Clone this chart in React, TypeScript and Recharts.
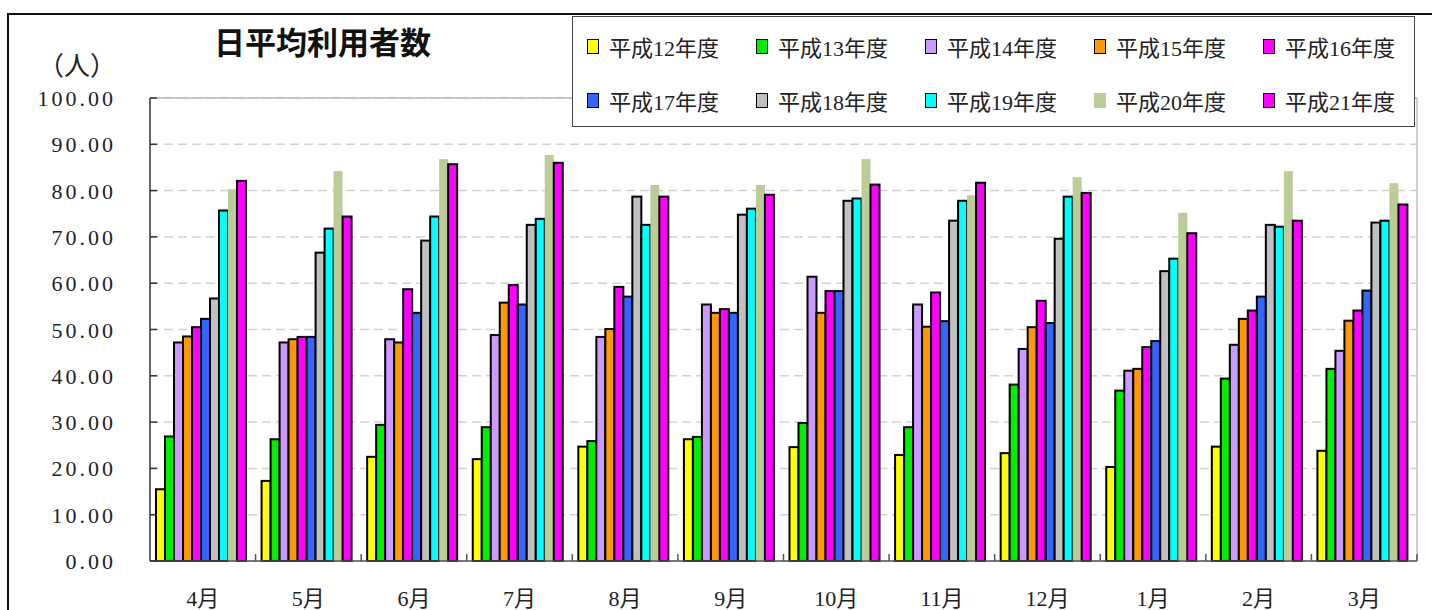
import { BarChart, Bar, XAxis, YAxis, CartesianGrid, Legend, ReferenceLine } from "recharts";

const months = ["4月", "5月", "6月", "7月", "8月", "9月", "10月", "11月", "12月", "1月", "2月", "3月"];

const h12 = [15.5, 17.3, 22.5, 22.0, 24.7, 26.3, 24.6, 22.9, 23.3, 20.3, 24.7, 23.8];
const h13 = [26.9, 26.3, 29.4, 28.9, 25.9, 26.8, 29.8, 28.9, 38.1, 36.8, 39.4, 41.5];
const h14 = [47.2, 47.2, 47.9, 48.8, 48.4, 55.4, 61.4, 55.4, 45.8, 41.1, 46.7, 45.4];
const h15 = [48.5, 47.9, 47.2, 55.8, 50.1, 53.6, 53.6, 50.6, 50.5, 41.5, 52.3, 51.9];
const h16 = [50.5, 48.4, 58.7, 59.6, 59.2, 54.4, 58.3, 58.0, 56.2, 46.2, 54.1, 54.1];
const h17 = [52.3, 48.4, 53.6, 55.4, 57.1, 53.6, 58.3, 51.8, 51.4, 47.5, 57.1, 58.4];
const h18 = [56.7, 66.6, 69.2, 72.6, 78.7, 74.8, 77.8, 73.5, 69.6, 62.6, 72.6, 73.1];
const h19 = [75.7, 71.8, 74.4, 73.9, 72.6, 76.1, 78.3, 77.8, 78.7, 65.3, 72.2, 73.5];
const h20 = [80.3, 84.2, 86.8, 87.7, 81.2, 81.2, 86.8, 79.0, 82.9, 75.2, 84.2, 81.6];
const h21 = [82.1, 74.4, 85.7, 86.0, 78.7, 79.1, 81.3, 81.7, 79.5, 70.8, 73.5, 77.0];

const yTicks = [0, 10, 20, 30, 40, 50, 60, 70, 80, 90, 100];

const series = [
  { key: "h12", name: "平成12年度", values: h12, color: "#FFFF00" },
  { key: "h13", name: "平成13年度", values: h13, color: "#00EE00" },
  { key: "h14", name: "平成14年度", values: h14, color: "#CC99FF" },
  { key: "h15", name: "平成15年度", values: h15, color: "#FF9900" },
  { key: "h16", name: "平成16年度", values: h16, color: "#FF00FF" },
  { key: "h17", name: "平成17年度", values: h17, color: "#3366FF" },
  { key: "h18", name: "平成18年度", values: h18, color: "#C0C0C0" },
  { key: "h19", name: "平成19年度", values: h19, color: "#00FFFF" },
  { key: "h20", name: "平成20年度", values: h20, color: "#BBCC99" },
  { key: "h21", name: "平成21年度", values: h21, color: "#FF00FF" },
];

const data = months.map((m, i) => {
  const row: Record<string, any> = { month: m };
  series.forEach((s) => (row[s.key] = s.values[i]));
  return row;
});

const FONT = '"Liberation Serif", "Noto Sans CJK JP", serif';
const PLOT_LEFT = 150;
const PLOT_RIGHT = 1417;
const BAND = (PLOT_RIGHT - PLOT_LEFT) / months.length;

const YTick = (props: any) => {
  const { x, y, payload } = props;
  return (
    <g>
      <line x1={x} x2={x + 7} y1={y} y2={y} stroke="#333" strokeWidth={1.5} />
      <text x={x - 34} y={y} dy={8} textAnchor="end" fontSize={22} letterSpacing={3} fontFamily={FONT} fill="#222">
        {Number(payload.value).toFixed(2)}
      </text>
    </g>
  );
};

const XTick = (props: any) => {
  const { x, y, payload } = props;
  return (
    <g>
      <line x1={x + BAND / 2} x2={x + BAND / 2} y1={y} y2={y - 7} stroke="#555" strokeWidth={1.5} />
      <text x={x} y={y + 45} textAnchor="middle" fontSize={22} fontFamily={FONT} fill="#222">
        {payload.value}
      </text>
    </g>
  );
};

const BarShape = (props: any) => {
  const { x, y, width, height, fill, outlined } = props;
  if (!height || height <= 0) return null;
  return (
    <rect
      x={x}
      y={y}
      width={width}
      height={height}
      fill={fill}
      stroke={outlined ? "#000" : "none"}
      strokeWidth={outlined ? 2 : 0}
    />
  );
};

const renderLegend = (props: any) => {
  const items = [...(props.payload || [])].sort(
    (a: any, b: any) => series.findIndex((s) => s.key === a.dataKey) - series.findIndex((s) => s.key === b.dataKey)
  );
  return (
    <div
      style={{
        display: "grid",
        gridTemplateColumns: "repeat(5, 169px)",
        gridTemplateRows: "54px 54px",
        paddingLeft: 14,
        paddingTop: 2,
        fontFamily: FONT,
        fontSize: 22,
        color: "#222",
      }}
    >
      {items.map((it: any) => (
        <div key={it.dataKey} style={{ display: "flex", alignItems: "center", whiteSpace: "nowrap" }}>
          <span
            style={{
              display: "inline-block",
              width: 12,
              height: 15,
              background: it.color,
              border: it.dataKey === "h20" ? "1.5px solid " + it.color : "1.5px solid #000",
              boxSizing: "border-box",
              marginRight: 10,
            }}
          />
          <span>{it.value}</span>
        </div>
      ))}
    </div>
  );
};

export default function App() {
  return (
    <div style={{ position: "absolute", left: 0, top: 0, width: 1432, height: 610, overflow: "hidden", background: "#fff" }}>
      <div
        style={{
          position: "absolute",
          left: 7,
          top: 13,
          width: 1440,
          height: 610,
          borderLeft: "2px solid #111",
          borderTop: "2px solid #111",
        }}
      />
      <div
        style={{
          position: "absolute",
          left: 214,
          top: 21,
          fontFamily: '"Noto Sans CJK JP", sans-serif',
          fontSize: 31,
          fontWeight: 700,
          color: "#111",
          lineHeight: "40px",
        }}
      >
        日平均利用者数
      </div>
      <div
        style={{
          position: "absolute",
          left: 38,
          top: 44,
          fontFamily: '"Noto Sans CJK JP", sans-serif',
          fontSize: 26,
          color: "#222",
          lineHeight: "40px",
        }}
      >
        （人）
      </div>
      <div style={{ position: "absolute", left: 0, top: 0 }}>
        <BarChart
          width={1432}
          height={610}
          data={data}
          margin={{ top: 98, right: 1432 - PLOT_RIGHT - 1, bottom: 19, left: PLOT_LEFT - 1 }}
          barCategoryGap={6}
          barGap={0}
        >
          <CartesianGrid vertical={false} stroke="#d2d2d2" strokeDasharray="9 5" strokeWidth={1.5} />
          <ReferenceLine y={100} stroke="#b8b8b8" strokeWidth={1.5} />
          <XAxis
            dataKey="month"
            height={30}
            interval={0}
            tickSize={0}
            tickMargin={0}
            tickLine={false}
            axisLine={{ stroke: "#555", strokeWidth: 1.5 }}
            tick={<XTick />}
          />
          <YAxis
            width={1}
            domain={[0, 100]}
            ticks={yTicks}
            interval={0}
            tickSize={0}
            tickMargin={0}
            tickLine={false}
            axisLine={{ stroke: "#333", strokeWidth: 1.5 }}
            tick={<YTick />}
          />
          <YAxis
            yAxisId="right"
            orientation="right"
            width={1}
            domain={[0, 100]}
            tick={false}
            tickLine={false}
            axisLine={{ stroke: "#c0c0c0", strokeWidth: 1.5 }}
          />
          <Legend
            layout="horizontal"
            verticalAlign="middle"
            align="center"
            content={renderLegend}
            wrapperStyle={{
              position: "absolute",
              left: 572,
              top: 16,
              width: 843,
              height: 111,
              border: "1.5px solid #444",
              background: "#fff",
              boxSizing: "border-box",
            }}
          />
          {series.map((s) => (
            <Bar
              key={s.key}
              dataKey={s.key}
              name={s.name}
              fill={s.color}
              isAnimationActive={false}
              shape={(p: any) => <BarShape {...p} outlined={s.key !== "h20"} />}
            />
          ))}
        </BarChart>
      </div>
    </div>
  );
}
